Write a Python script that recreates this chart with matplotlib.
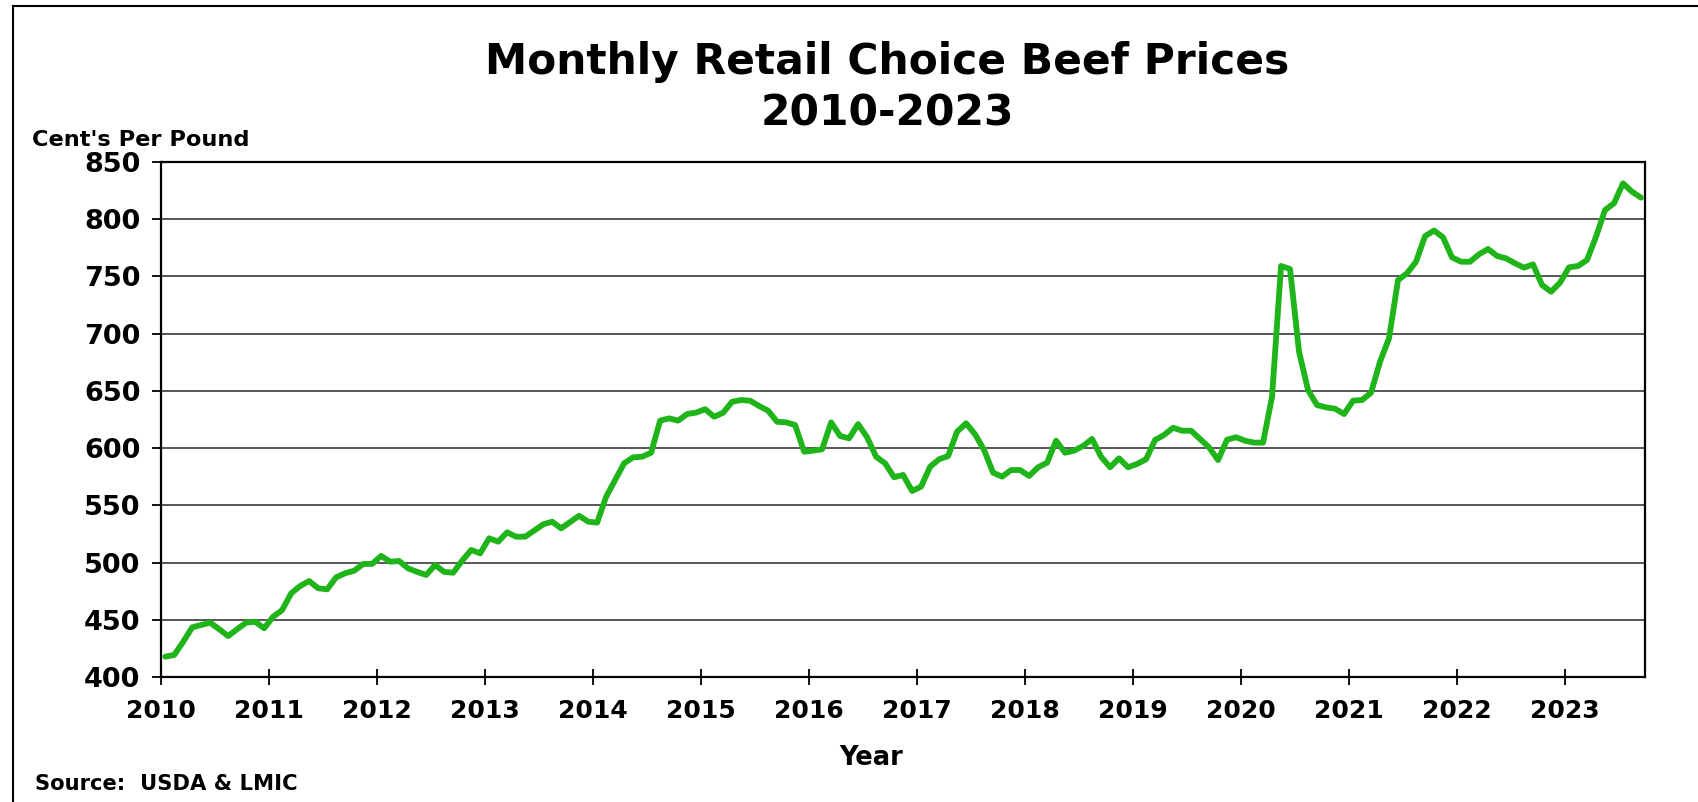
import matplotlib
matplotlib.use("Agg")
import matplotlib.pyplot as plt
from matplotlib.patches import Rectangle
import numpy as np

# Monthly retail choice beef prices, cents per pound, Jan 2010 - Sep 2023
p2010 = [418, 419.5, 431, 443.6, 445.6, 447.7, 442, 436, 442, 447.7, 448.5, 442.8]
p2011 = [452.9, 458.7, 473.3, 479.7, 484, 477.7, 476.8, 487.3, 490.8, 493, 498.9, 499]
p2012 = [505.9, 500.9, 501.5, 495, 492, 489.3, 498, 492, 491.3, 501.8, 511.1, 508.2]
p2013 = [521.3, 518.4, 526.5, 522.7, 522.7, 528, 533.5, 535.8, 530, 535.5, 541, 535.8]
p2014 = [535, 557.6, 572.2, 586.8, 592, 592.5, 596, 624, 626, 624, 629.8, 631]
p2015 = [634, 627.4, 630.9, 640.5, 642, 641.4, 636.8, 632.7, 623, 622.5, 620.2, 596.9]
p2016 = [597.8, 599, 622.5, 610.6, 608.6, 621, 609.5, 592.5, 586.8, 574.6, 576.6, 562.6]
p2017 = [566.4, 583.8, 590.3, 593.1, 614.4, 621.7, 612, 598.4, 578.6, 575.1, 580.9, 580.9]
p2018 = [575.7, 583.3, 587.3, 606.5, 596, 597.8, 601.9, 608, 592.5, 583.3, 591.1, 583.3]
p2019 = [586.2, 590.3, 607.1, 611.5, 617.8, 615.2, 615.2, 608, 600.7, 589.6, 607.4, 609.5]
p2020 = [606.5, 604.8, 604.8, 644.9, 759, 756.3, 684.2, 650.7, 637.6, 635.6, 634.4, 629.8]
p2021 = [641.4, 642, 648.4, 675.4, 695.9, 746.7, 752.6, 762.7, 785, 789.9, 784, 766.5]
p2022 = [762.7, 762.7, 769.2, 773.8, 767.7, 765.7, 761.3, 757.5, 760.4, 742.4, 736.5, 744.4]
p2023 = [757.8, 759, 764.2, 784.5, 807.8, 813.7, 831.1, 823.8, 818.6]

prices = (p2010 + p2011 + p2012 + p2013 + p2014 + p2015 + p2016 + p2017 +
          p2018 + p2019 + p2020 + p2021 + p2022 + p2023)
years = list(range(2010, 2024))
yticks = list(range(400, 851, 50))

W, H = 1698, 802
fig = plt.figure(figsize=(W / 100, H / 100), dpi=100)
plt.rcParams['font.family'] = ['DejaVu Sans']

# outer frame
fig.add_artist(Rectangle((12.7 / W, -0.1), 1.2, 1.1 - 6 / H, transform=fig.transFigure,
                         fill=False, edgecolor='black', linewidth=1.5))

ax = fig.add_axes([160.7 / W, 1 - 677.3 / H, (1645.5 - 160.7) / W, (677.3 - 161.7) / H])
x = np.arange(len(prices))
ax.plot(x, prices, color='#1FB41A', linewidth=4.2, solid_joinstyle='round',
        solid_capstyle='round', zorder=3)

ax.set_xlim(-0.5, len(prices) - 0.5)
ax.set_ylim(400, 850)
ax.set_yticks(yticks)
ax.set_yticklabels([str(v) for v in yticks], fontsize=19.5, fontweight='bold')
ax.set_xticks([-0.5 + 12 * i for i in range(len(years))])
ax.set_xticklabels([str(y) for y in years], fontsize=18, fontweight='bold')
ax.tick_params(axis='y', direction='out', length=6.5, width=1.3, pad=8)
ax.tick_params(axis='x', direction='inout', length=11, width=1.3, pad=10)
ax.grid(axis='y', color='#3a3a3a', linewidth=1.2, zorder=1)
for s in ax.spines.values():
    s.set_linewidth(1.6)
    s.set_color('black')

ax.set_xlabel('Year', fontsize=18.5, fontweight='bold')
ax.xaxis.set_label_coords((871 - 160.7) / (1645.5 - 160.7), -(758 - 677.3) / (677.3 - 161.7))
ax.xaxis.label.set_verticalalignment('center')

fig.text(887 / W, 1 - 73.6 / H, 'Monthly Retail Choice Beef Prices', ha='center',
         va='baseline', fontsize=30.5, fontweight='bold')
fig.text(887 / W, 1 - 125.6 / H, '2010-2023', ha='center', va='baseline',
         fontsize=30.5, fontweight='bold')
fig.text(31.7 / W, 1 - 146 / H, "Cent's Per Pound", ha='left', va='baseline',
         fontsize=16.2, fontweight='bold')
fig.text(35 / W, 1 - 790 / H, 'Source:  USDA & LMIC', ha='left', va='baseline',
         fontsize=15.2, fontweight='bold')

fig.savefig('out.png', dpi=100)
